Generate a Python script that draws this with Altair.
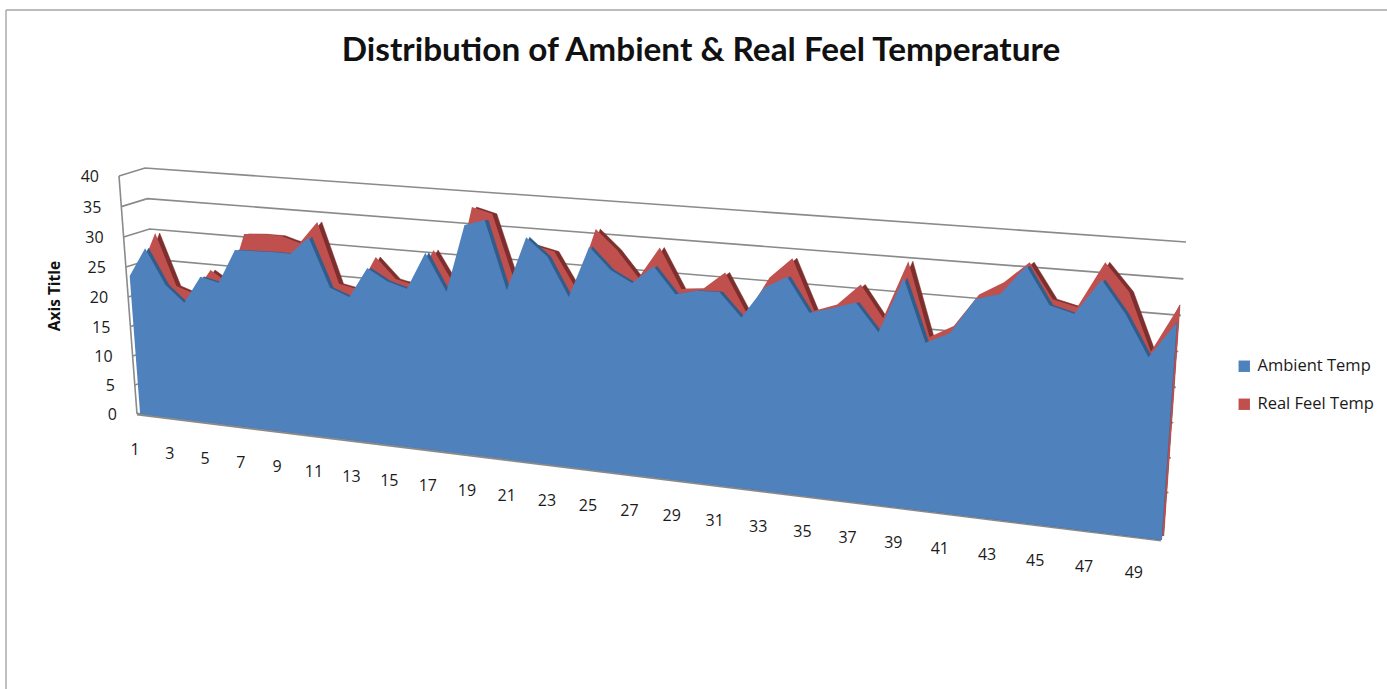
import altair as alt
import pandas as pd

# Series read as one value per observation (1..50)
ambient = [23.5, 28.4, 22.6, 19.9, 24.5, 23.8, 29.4, 29.5, 29.6, 29.6,
           32.5, 24.7, 23.5, 28.4, 26.6, 25.7, 31.6, 25.8, 36.4, 37.4,
           26.9, 35.3, 32.6, 26.7, 34.6, 31.4, 29.7, 32.5, 28.6, 29.4,
           29.5, 26.0, 30.7, 32.6, 27.6, 28.6, 29.7, 25.7, 33.8, 24.8,
           26.5, 31.7, 32.7, 36.9, 31.7, 30.8, 35.8, 31.4, 25.7, 30.8]
real_feel = [24.1, 30.5, 22.0, 21.0, 25.2, 23.2, 31.6, 31.8, 31.8, 30.9,
             34.5, 24.9, 24.3, 29.7, 26.5, 25.8, 31.6, 26.4, 38.7, 37.9,
             28.0, 33.6, 32.9, 27.6, 36.8, 33.9, 30.0, 34.8, 28.9, 29.2,
             31.9, 26.1, 31.7, 34.8, 27.4, 28.6, 31.8, 27.2, 35.7, 25.1,
             27.0, 31.8, 33.8, 36.9, 32.0, 31.2, 37.7, 33.9, 25.9, 32.7]
value_ticks = [0, 5, 10, 15, 20, 25, 30, 35, 40]
category_ticks = list(range(1, 50, 2))
series_names = ["Ambient Temp", "Real Feel Temp"]
series_colors = ["#4f81bd", "#c0504d"]

W, H = 1387, 689

# Corners of the front plane of the 3D box, used for the perspective
P00, P10, P11, P01 = (137, 414), (1161, 540), (1181, 255), (119, 176)
sum_x = P00[0] - P10[0] + P11[0] - P01[0]
sum_y = P00[1] - P10[1] + P11[1] - P01[1]
d1x, d1y = P10[0] - P11[0], P10[1] - P11[1]
d2x, d2y = P01[0] - P11[0], P01[1] - P11[1]
det = d1x * d2y - d2x * d1y
g = (sum_x * d2y - d2x * sum_y) / det
k = (d1x * sum_y - sum_x * d1y) / det
bx, by = P10[0] * (1 + g) - P00[0], P10[1] * (1 + g) - P00[1]
cx, cy = P01[0] * (1 + k) - P00[0], P01[1] * (1 + k) - P00[1]


def projected(chart, nudge=0.0, extrude=0.0):
    """Add the perspective projection of (t, v, z) as fields sx and sy.

    nudge moves a series sideways along the depth direction of the box;
    extrude is the width of the shaded side a series shows on its falling
    edges, and is dropped at the last observation so the right edge stays thin.
    """
    return chart.transform_calculate(
        s="(datum.t - 1) / 49", h="datum.v / 40"
    ).transform_calculate(
        w=f"1 + {g} * datum.s + {k} * datum.h"
    ).transform_calculate(
        sx=(f"({P00[0]} + {bx} * datum.s + {cx} * datum.h) / datum.w"
            f" + (datum.z + {nudge}) * (26 - 21 * datum.s)"
            f" + (datum.t < 50 ? {extrude} : 0)"),
        sy=f"({P00[1]} + {by} * datum.s + {cy} * datum.h) / datum.w - datum.z * (8 + 5 * datum.s)",
    )


X = alt.X("sx:Q", scale=alt.Scale(domain=[0, W], nice=False, zero=False), axis=None)
Y = alt.Y("sy:Q", scale=alt.Scale(domain=[H, 0], nice=False, zero=False), axis=None)


def outline(values, name):
    """Closed outline of one series: floor, the value curve, floor again."""
    rows = [{"t": 1, "v": 0, "n": 0, "series": name}]
    rows += [{"t": i + 1, "v": v, "n": i + 1, "series": name} for i, v in enumerate(values)]
    rows.append({"t": 50, "v": 0, "n": 51, "series": name})
    return pd.DataFrame(rows)


def face(values, name, z, nudge, extrude=0.0, **mark):
    base = alt.Chart(outline(values, name)).transform_calculate(z=str(z))
    return projected(base.mark_line(strokeJoin="round", **mark), nudge, extrude).encode(
        x=X, y=Y, order="n:Q")


color = alt.Fill(
    "series:N",
    scale=alt.Scale(domain=series_names, range=series_colors),
    legend=alt.Legend(title=None, orient="none", legendX=1236, legendY=358,
                      symbolType="square", symbolSize=130, symbolStrokeWidth=0,
                      labelFontSize=16.5, labelFont="Open Sans", labelColor="#1a1a1a",
                      rowPadding=21, labelOffset=5),
)

# Walls: each grid line runs from the front of the side wall to the back wall
wall_rows = []
for v in value_ticks[1:]:
    for n, (t, z) in enumerate([(1, 0), (1, 1), (50, 1)]):
        wall_rows.append({"t": t, "v": v, "z": z, "n": n, "tick": v})
grid = projected(alt.Chart(pd.DataFrame(wall_rows)).mark_line(
    color="#8a8a8a", strokeWidth=1.6)).encode(x=X, y=Y, order="n:Q", detail="tick:N")

axis_line = projected(alt.Chart(pd.DataFrame(
    [{"t": 1, "v": 0, "z": 0, "n": 0}, {"t": 1, "v": 40, "z": 0, "n": 1}]
)).mark_line(color="#8a8a8a", strokeWidth=1.6)).encode(x=X, y=Y, order="n:Q")

floor_line = projected(alt.Chart(pd.DataFrame(
    [{"t": 1, "v": 0, "z": 0, "n": 0}, {"t": 50, "v": 0, "z": 0, "n": 1}]
)).mark_line(color="#8a8a8a", strokeWidth=3)).encode(x=X, y=Y, order="n:Q")

red_side = face(real_feel, series_names[1], 0.3, 0.25, 4.5, fill="#7d2f2d", stroke="#7d2f2d", strokeWidth=0.5)
red_front = face(real_feel, series_names[1], 0.3, 0.25, strokeWidth=0).encode(fill=color)
blue_side = face(ambient, series_names[0], 0.0, 0.12, 3.5, fill="#2f5d8c", stroke="#2f5d8c", strokeWidth=0.5)
blue_front = face(ambient, series_names[0], 0.0, 0.12, strokeWidth=0).encode(fill=color)

value_labels = projected(alt.Chart(pd.DataFrame(
    {"t": 1, "v": value_ticks, "z": 0, "label": [str(v) for v in value_ticks]}
)).mark_text(align="right", baseline="middle", dx=-20, dy=1, fontSize=16,
             font="Open Sans", color="#1a1a1a")).encode(x=X, y=Y, text="label:N")

category_labels = projected(alt.Chart(pd.DataFrame(
    {"t": category_ticks, "v": 0, "z": 0, "label": [str(c) for c in category_ticks]}
)).mark_text(align="center", baseline="middle", dx=-2, dy=36, fontSize=16,
             font="Open Sans", color="#1a1a1a")).encode(x=X, y=Y, text="label:N")

title = alt.Chart(pd.DataFrame({"label": ["Distribution of Ambient & Real Feel Temperature"]})).mark_text(
    align="center", baseline="middle", fontSize=33.3, fontWeight="bold", font="Lato", color="#111111"
).encode(x=alt.value(701), y=alt.value(51), text="label:N")

axis_title = alt.Chart(pd.DataFrame({"label": ["Axis Title"]})).mark_text(
    align="center", baseline="middle", angle=270, fontSize=15.5, fontWeight="bold",
    font="Open Sans", color="#111111"
).encode(x=alt.value(55), y=alt.value(296), text="label:N")

frame_top = alt.Chart(pd.DataFrame({"a": [0]})).mark_rule(color="#a6a6a6", strokeWidth=1.4).encode(
    x=alt.value(6), x2=alt.value(W), y=alt.value(10))
frame_left = alt.Chart(pd.DataFrame({"a": [0]})).mark_rule(color="#a6a6a6", strokeWidth=1.4).encode(
    x=alt.value(6), y=alt.value(10), y2=alt.value(H))

chart = alt.layer(
    frame_top, frame_left, grid, axis_line, floor_line,
    red_side, red_front, blue_side, blue_front,
    value_labels, category_labels, title, axis_title,
).properties(
    width=W, height=H, padding=0, autosize=alt.AutoSizeParams(type="none"),
    background="white",
).configure_view(stroke=None)

chart.save("out.html", embed_options={"renderer": "svg", "actions": False})
